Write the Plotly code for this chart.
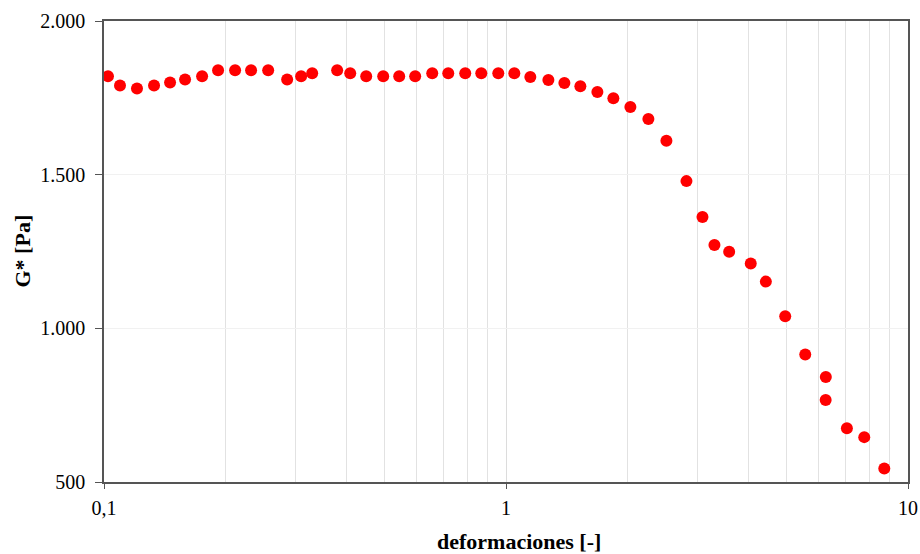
import plotly.graph_objects as go

# Strain sweep: complex modulus vs. strain amplitude
deformacion = [
    0.1023, 0.1096, 0.1208, 0.1332, 0.1460, 0.1591, 0.1754, 0.1922, 0.2119, 0.2322,
    0.2561, 0.2855, 0.3093, 0.3295, 0.3802, 0.4097, 0.4490, 0.4949, 0.5424, 0.5944,
    0.6554, 0.7184, 0.7918, 0.8680, 0.9568, 1.0488, 1.1496, 1.2747, 1.3970, 1.5310,
    1.6878, 1.8497, 2.0390, 2.2606, 2.5063, 2.8113, 3.0815, 3.3000, 3.5904, 4.0628,
    4.4302, 4.9493, 5.5514, 6.2460, 6.2400, 7.0468, 7.7840, 8.7300,
]
g_complejo = [
    1820, 1790, 1780, 1790, 1800, 1810, 1820, 1840, 1840, 1840,
    1840, 1810, 1820, 1830, 1840, 1830, 1820, 1820, 1820, 1820,
    1830, 1830, 1830, 1830, 1830, 1830, 1818, 1808, 1798, 1788,
    1769, 1749, 1720, 1681, 1610, 1479, 1362, 1271, 1249, 1211,
    1152, 1039, 915, 842, 767, 675, 646, 544,
]

y_ticks = [500, 1000, 1500, 2000]
y_labels = ["500", "1.000", "1.500", "2.000"]
x_ticks = [0.1, 1, 10]
x_labels = ["0,1", "1", "10"]

serif = "Liberation Serif, Times New Roman, serif"
tick_font = dict(family=serif, size=20, color="#000000")
title_font = dict(family=serif, size=22, color="#000000")

fig = go.Figure()
fig.add_trace(go.Scatter(
    x=deformacion, y=g_complejo, mode="markers",
    marker=dict(color="#ff0000", size=12, line=dict(width=0)),
    showlegend=False,
))

fig.update_layout(
    width=920, height=554,
    margin=dict(l=104, r=12, t=21, b=72),
    paper_bgcolor="white", plot_bgcolor="white",
    font=dict(family=serif, size=20, color="#000000"),
    xaxis=dict(
        type="log", range=[-1, 1], automargin=False,
        tickvals=x_ticks, ticktext=x_labels, tickfont=tick_font,
        ticks="outside", ticklen=5, tickcolor="#555555", ticklabelstandoff=2,
        showline=True, linecolor="#555555", linewidth=1.5, mirror=True,
        showgrid=True, gridcolor="#dcdcdc", gridwidth=1,
        minor=dict(showgrid=True, gridcolor="#e2e2e2", gridwidth=1, dtick="D1", ticks=""),
        zeroline=False,
    ),
    yaxis=dict(
        range=[500, 2000], automargin=False,
        tickvals=y_ticks, ticktext=y_labels, tickfont=tick_font,
        ticks="outside", ticklen=7, tickcolor="#555555", ticklabelstandoff=6,
        showline=True, linecolor="#555555", linewidth=1.5, mirror=True,
        showgrid=True, gridcolor="#f1f1f1", gridwidth=1,
        zeroline=False,
    ),
    annotations=[
        dict(text="<b>deformaciones [-]</b>", font=title_font, showarrow=False,
             xref="paper", yref="paper", x=0.516, y=0, xanchor="center",
             yanchor="middle", yshift=-59),
        dict(text="<b>G* [Pa]</b>", font=title_font, showarrow=False, textangle=-90,
             xref="paper", yref="paper", x=0, y=0.5, xanchor="center",
             yanchor="middle", xshift=-82),
    ],
)

fig.write_html("out.html")
